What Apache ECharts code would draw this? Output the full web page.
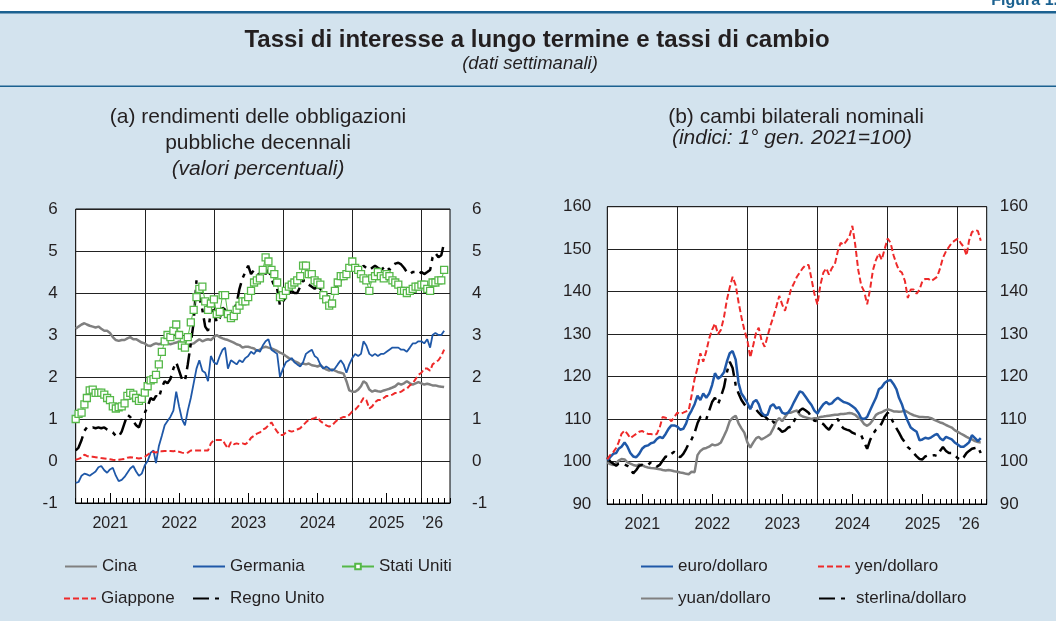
<!DOCTYPE html>
<html>
<head>
<meta charset="utf-8" />
<script src="https://cdn.jsdelivr.net/npm/echarts@6/dist/echarts.min.js"></script>
<style>
  html, body { margin: 0; padding: 0; background: #fff; }
  #chart { width: 1056px; height: 621px; }
</style>
</head>
<body>
<div id="chart"></div>
<script>
// observation dates: 1st and 16th of each month, Jan 2021 - May 2026
const dates = [];
for (let y = 2021; y <= 2026; y++) {
  for (let m = 1; m <= 12; m++) {
    if (y === 2026 && m > 5) break;
    const mm = String(m).padStart(2, '0');
    dates.push(`${y}-${mm}-01`);
    if (!(y === 2026 && m === 5)) dates.push(`${y}-${mm}-16`);
  }
}

// month starts used for the axis ticks (Jan 2021 - Jun 2026)
const months = [];
for (let y = 2021; y <= 2026; y++) {
  for (let m = 1; m <= 12; m++) {
    if (y === 2026 && m > 6) break;
    months.push(`${y}-${String(m).padStart(2, '0')}`);
  }
}
const labelMonths = ['2021-07', '2022-07', '2023-07', '2024-07', '2025-07', '2026-03'];
const xTickLabels = ['2021', '2022', '2023', '2024', '2025', "'26"];

// (a) 10-year government bond yields, percent
const cina = [
  3.15, 3.2, 3.25, 3.28, 3.25, 3.22, 3.2, 3.18, 3.2, 3.15, 3.1, 3.1, 3.05, 2.95, 2.88, 2.86, 2.88, 2.88, 2.92, 2.95, 2.9, 2.9, 2.86, 2.82,
  2.8, 2.75, 2.74, 2.78, 2.8, 2.78, 2.8, 2.82, 2.8, 2.78, 2.8, 2.82, 2.85, 2.8, 2.75, 2.72, 2.78, 2.8, 2.85, 2.9, 2.85, 2.88, 2.9, 2.88,
  2.95, 3.0, 2.95, 2.92, 2.9, 2.88, 2.85, 2.82, 2.78, 2.76, 2.7, 2.72, 2.72, 2.7, 2.68, 2.62, 2.65, 2.7, 2.72, 2.7, 2.68, 2.65, 2.62, 2.58,
  2.55, 2.5, 2.45, 2.42, 2.38, 2.35, 2.3, 2.32, 2.3, 2.32, 2.28, 2.27, 2.25, 2.28, 2.22, 2.18, 2.15, 2.18, 2.15, 2.12, 2.1, 2.08, 1.9, 1.68,
  1.65, 1.65, 1.7, 1.78, 1.9, 1.85, 1.7, 1.65, 1.68, 1.66, 1.65, 1.68, 1.7, 1.72, 1.75, 1.78, 1.85, 1.82, 1.85, 1.9, 1.85, 1.82, 1.85, 1.88,
  1.85, 1.82, 1.84, 1.82, 1.8, 1.8, 1.78, 1.77, 1.76
];
const germania = [
  -0.52, -0.5, -0.35, -0.3, -0.32, -0.35, -0.3, -0.25, -0.15, -0.12, -0.22, -0.28, -0.2, -0.16, -0.35, -0.48, -0.45, -0.38, -0.28, -0.18, -0.12, -0.25, -0.35, -0.3,
  -0.1, 0.0, 0.2, 0.25, -0.05, 0.35, 0.6, 0.85, 0.95, 1.05, 1.2, 1.65, 1.3, 1.0, 0.85, 1.2, 1.5, 1.85, 2.2, 2.4, 2.15, 2.1, 1.9, 2.5,
  2.35, 2.3, 2.5, 2.65, 2.7, 2.2, 2.4, 2.35, 2.3, 2.4, 2.35, 2.45, 2.5, 2.6, 2.55, 2.65, 2.6, 2.75, 2.85, 2.9, 2.65, 2.6, 2.55, 2.0,
  2.2, 2.35, 2.4, 2.45, 2.35, 2.3, 2.25, 2.35, 2.55, 2.6, 2.65, 2.5, 2.45, 2.3, 2.2, 2.25, 2.2, 2.15, 2.2, 2.3, 2.4, 2.3, 2.1, 2.3,
  2.45, 2.55, 2.5, 2.55, 2.85, 2.75, 2.55, 2.5, 2.55, 2.5, 2.55, 2.55, 2.6, 2.65, 2.7, 2.7, 2.7, 2.65, 2.65, 2.6, 2.7, 2.8, 2.8, 2.85,
  2.85, 2.8, 2.9, 2.7, 3.0, 3.05, 3.0, 3.0, 3.1
];
const statiUniti = [
  1.0, 1.12, 1.15, 1.35, 1.5, 1.68, 1.7, 1.62, 1.62, 1.63, 1.58, 1.5, 1.45, 1.3, 1.25, 1.28, 1.3, 1.37, 1.55, 1.62, 1.58, 1.5, 1.43, 1.48,
  1.63, 1.78, 1.92, 1.95, 2.05, 2.3, 2.6, 2.85, 3.0, 2.95, 3.1, 3.25, 3.0, 2.75, 2.7, 2.95, 3.3, 3.6, 3.9, 4.1, 4.15, 3.8, 3.6, 3.75,
  3.85, 3.5, 3.55, 3.95, 3.95, 3.5, 3.4, 3.45, 3.6, 3.7, 3.8, 3.8, 3.9, 4.05, 4.25, 4.3, 4.35, 4.55, 4.85, 4.75, 4.55, 4.45, 4.25, 3.9,
  3.95, 4.05, 4.15, 4.2, 4.25, 4.3, 4.4, 4.65, 4.65, 4.45, 4.45, 4.3, 4.25, 4.2, 3.95, 3.85, 3.7, 3.75, 4.05, 4.25, 4.4, 4.4, 4.45, 4.6,
  4.75, 4.6, 4.55, 4.45, 4.35, 4.3, 4.05, 4.35, 4.4, 4.5, 4.4, 4.35, 4.45, 4.4, 4.3, 4.25, 4.2, 4.05, 4.05, 4.0, 4.05, 4.1, 4.15, 4.15,
  4.2, 4.2, 4.1, 4.05, 4.25, 4.25, 4.3, 4.3, 4.55
];
const giappone = [
  0.03, 0.05, 0.08, 0.15, 0.12, 0.1, 0.1, 0.09, 0.08, 0.07, 0.06, 0.05, 0.04, 0.03, 0.02, 0.03, 0.04, 0.05, 0.08, 0.09, 0.08, 0.07, 0.06, 0.07,
  0.1, 0.15, 0.2, 0.22, 0.2, 0.24, 0.23, 0.24, 0.24, 0.24, 0.23, 0.25, 0.22, 0.2, 0.18, 0.2, 0.25, 0.25, 0.25, 0.25, 0.25, 0.25, 0.25, 0.42,
  0.5, 0.5, 0.5, 0.5, 0.4, 0.3, 0.45, 0.4, 0.42, 0.4, 0.42, 0.4, 0.45, 0.55, 0.6, 0.65, 0.68, 0.75, 0.78, 0.85, 0.92, 0.8, 0.7, 0.62,
  0.62, 0.68, 0.72, 0.7, 0.72, 0.75, 0.78, 0.85, 0.92, 0.98, 1.0, 1.02, 1.05, 0.95, 0.9, 0.85, 0.82, 0.85, 0.92, 0.98, 1.02, 1.05, 1.05, 1.1,
  1.18, 1.22, 1.3, 1.4, 1.5, 1.45, 1.25, 1.3, 1.4, 1.45, 1.45, 1.5, 1.55, 1.55, 1.58, 1.62, 1.62, 1.65, 1.7, 1.72, 1.8, 1.85, 1.95, 2.05,
  2.1, 2.2, 2.2, 2.15, 2.3, 2.35, 2.4, 2.5, 2.65
];
const regnoUnito = [
  0.25, 0.32, 0.5, 0.72, 0.8, 0.78, 0.8, 0.78, 0.8, 0.78, 0.8, 0.75, 0.72, 0.68, 0.6, 0.58, 0.7, 0.9, 1.1, 1.05, 0.95, 0.85, 0.8, 1.0,
  1.15, 1.3, 1.5, 1.45, 1.55, 1.5, 1.75, 1.9, 1.85, 1.95, 2.2, 2.35, 2.15, 1.95, 1.9, 2.3, 2.8, 3.3, 4.3, 3.9, 3.6, 3.2, 3.1, 3.55,
  3.6, 3.3, 3.4, 3.65, 3.6, 3.45, 3.5, 3.6, 3.75, 4.1, 4.35, 4.5, 4.65, 4.45, 4.55, 4.5, 4.4, 4.55, 4.45, 4.55, 4.35, 4.15, 4.1, 3.7,
  3.8, 3.9, 4.0, 4.05, 4.0, 4.0, 4.15, 4.3, 4.3, 4.2, 4.15, 4.1, 4.15, 4.1, 4.0, 3.95, 3.9, 4.0, 4.1, 4.2, 4.3, 4.45, 4.4, 4.55,
  4.65, 4.6, 4.5, 4.55, 4.65, 4.6, 4.55, 4.6, 4.65, 4.6, 4.55, 4.6, 4.65, 4.55, 4.65, 4.7, 4.72, 4.68, 4.6, 4.5, 4.45, 4.5, 4.5, 4.45,
  4.5, 4.45, 4.5, 4.55, 4.85, 4.95, 4.85, 4.9, 5.2
];

// (b) bilateral nominal exchange rates, index 1 Jan 2021 = 100
const euroDollaro = [
  100.3, 101, 101.8, 102, 103, 103.5, 104.5, 103.5, 102, 101.2, 101, 101.8, 103, 103.6, 103.8, 104.3, 104.5, 105.3, 105.8, 105.5, 106.5, 107.7, 108.5, 108.5,
  108.2, 107.5, 107.7, 109, 110.8, 112, 113.5, 115.5, 114.5, 116, 115, 116, 118, 120.8, 119.5, 120, 121, 123.5, 125.5, 126, 124, 118.5, 116, 115,
  113.8, 112.3, 114, 114.5, 113.5, 111.5, 110.8, 111, 113, 113.5, 112.5, 112.8, 111.5, 111.2, 111.5, 112.5, 114, 115.3, 116.5, 116.2, 115.2, 114.2, 113.3, 112,
  111.3, 112.5, 113.5, 114, 113.5, 113.7, 114.5, 115, 114.5, 114, 113.8, 113.5, 113, 112.5, 111.5, 110.2, 110, 110.5, 112, 113.5, 115, 117, 117.5, 118.5,
  119, 119.2, 118.2, 117, 115, 113.5, 111.2, 109.5, 108, 107.5, 107, 105, 105.2, 105.6, 105.4, 105.7, 106.2, 106.5, 105.5, 105, 105.8, 105.5, 105.2, 104.5,
  104, 103.5, 103.5, 104, 104.5, 106.2, 105.5, 104.8, 105.5
];
const yenDollaro = [
  100.5, 101.5, 102.2, 103.2, 104.5, 106.5, 107.3, 106.5, 105.5, 106, 106.5, 107, 107.2, 106.8, 106.5, 106.5, 106.2, 106.5, 108, 110.5, 110.3, 110.2, 109.5, 110.5,
  111.5, 111.2, 111.5, 111.8, 112, 115.5, 119.5, 122, 125.5, 123.5, 126, 129, 131, 132.5, 130, 131, 134, 138, 141, 143.5, 141.5, 137.5, 134, 131,
  128.5, 124.5, 127.5, 130.5, 131.5, 128.5, 127, 129.5, 132, 134, 136.5, 139, 137, 135.5, 138, 140.5, 142, 143.5, 144.5, 145.5, 146.3, 146.3, 143, 139.5,
  137, 141.5, 144.5, 145.5, 144, 145.5, 146.5, 149.5, 151.5, 151, 152, 153, 155.5, 151, 145, 141.5, 140, 137, 140.5, 145, 147.5, 149, 147.5, 150,
  152.5, 151.5, 148.5, 146.5, 145, 144.5, 142.5, 138.5, 140.5, 140.5, 139.5, 140.5, 142.5, 143, 143, 142.5, 143, 143.5, 145.5, 148, 149.5, 150.5, 151.5, 152,
  152.5, 151.5, 150.5, 148.5, 152, 154, 154.5, 154.3, 152
];
const yuanDollaro = [
  99.8, 99.4, 99.2, 99.6, 100.2, 100.6, 100.5, 99.8, 99.5, 99.2, 99.0, 99.3, 99.2, 98.8, 98.6, 98.5, 98.4, 98.3, 98.2, 98.0, 97.9, 98.0, 97.9, 97.7,
  97.6, 97.4, 97.3, 97.1, 97.0, 97.6, 97.5, 101.5, 102.5, 103.0, 103.2, 103.5, 104, 103.8, 104, 104.5, 106, 107.5, 109.5, 110.3, 110.8, 109, 107.8, 106.8,
  104.5, 103.3, 104.5, 105.5, 105.8, 105.2, 105.6, 106, 106.5, 107.8, 109.5, 110.2, 109.5, 110.5, 111.5, 111.5, 111.8, 112, 111, 110.6, 110.4, 110.2, 110, 110.2,
  110.2, 110.5, 110.6, 110.7, 110.8, 110.9, 111, 111, 111.2, 111.2, 111.3, 111.4, 111.3, 111, 110.3, 109.8, 108.8, 108.4, 108.9, 109.8, 111, 111.4, 111.6, 112,
  112.3, 112.1, 111.8, 111.8, 111.7, 111.8, 112, 111.6, 111.2, 110.9, 110.7, 110.5, 110.5, 110.4, 110.4, 110.2, 109.8, 109.5, 109.2, 109, 108.6, 108.3, 108, 107.4,
  107, 106.6, 106.2, 105.8, 105.5, 105.2, 104.8, 104.6, 104.5
];
const sterlinaDollaro = [
  101, 100, 99.5, 99, 99.5, 99.3, 99.3, 99, 98.2, 97.2, 98, 99, 99.2, 99, 99.2, 99.8, 99.5, 98.8, 99.2, 100.2, 101.2, 101, 101.8, 102.3,
  101.5, 101, 101.8, 103, 104.2, 105.2, 106.8, 109, 110.5, 110.8, 110, 112, 114, 115, 113.5, 115.3, 117.5, 121, 123.5, 122, 118, 116, 114.5, 113.5,
  112.3, 112.8, 113, 112.2, 111.5, 110.8, 110.7, 110, 109, 109.5, 108, 107.7, 107, 107.3, 108, 108.2, 109.5, 110.8, 112, 112.5, 112, 111.5, 110.5, 109.6,
  109.5, 109.3, 108.8, 108, 107.5, 108.5, 109.5, 110, 108.5, 107.8, 107.5, 107.3, 106.8, 106.5, 106.5, 106.2, 104.5, 103, 105, 106.5, 107.5, 108, 109, 110.5,
  111.5, 110.5, 109, 107.8, 106.8, 105.5, 104.5, 103.4, 102.8, 102, 101.2, 100.6, 100.5, 101.2, 101.5, 101.4, 101.5, 101.3, 102.5, 103.4, 102.5, 102, 102, 101.5,
  100.8, 100.3, 101, 102, 102.5, 103, 103.2, 103.4, 102
];

const FONT = '"Liberation Sans", Arial, sans-serif';
const TXT = '#231f20';
const BLUE = '#1f58a8';
const RED = '#ee2a2a';
const GRAY = '#808080';
const GREEN = '#55b848';
const LONG_SHORT = [16, 6, 4, 6];

const pair = arr => dates.map((d, i) => [d, arr[i]]);

function xAxesFor(gridIndex) {
  return [
    {
      type: 'category', gridIndex, position: 'bottom', data: months, boundaryGap: false,
      axisLine: { show: true, onZero: false, lineStyle: { color: '#000', width: 1 } },
      axisTick: { show: true, inside: true, length: 5, interval: 0, lineStyle: { color: '#000' } },
      axisLabel: { show: false },
      splitLine: { show: true, interval: i => i % 12 === 0, lineStyle: { color: '#222', width: 1 } }
    },
    {
      type: 'category', gridIndex, position: 'bottom', data: months, boundaryGap: false,
      axisLine: { show: false, onZero: false },
      axisTick: { show: true, inside: true, length: 10, interval: i => i % 12 === 6, lineStyle: { color: '#000' } },
      axisLabel: {
        show: true, margin: 13, fontSize: 16, color: TXT, fontFamily: FONT,
        interval: (i, v) => labelMonths.includes(v),
        formatter: v => xTickLabels[labelMonths.indexOf(v)]
      },
      splitLine: { show: false }
    },
    {
      type: 'time', gridIndex, position: 'bottom', min: '2021-01-01', max: '2026-06-01', show: false,
      axisLine: { onZero: false }
    }
  ];
}

function yAxesFor(gridIndex, min, max, interval, leftMargin, rightMargin) {
  const label = { fontSize: 17, color: TXT, fontFamily: FONT };
  return [
    {
      type: 'value', gridIndex, min, max, interval, position: 'left',
      axisLine: { show: false }, axisTick: { show: false },
      axisLabel: Object.assign({ margin: leftMargin }, label),
      splitLine: { show: true, lineStyle: { color: '#222', width: 1 } }
    },
    {
      type: 'value', gridIndex, min, max, interval, position: 'right',
      axisLine: { show: false }, axisTick: { show: false },
      axisLabel: Object.assign({ margin: rightMargin }, label),
      splitLine: { show: false }
    }
  ];
}

function lineSeries(name, arr, xi, yi, color, width, dash) {
  return {
    name, type: 'line', xAxisIndex: xi, yAxisIndex: yi, data: pair(arr),
    symbol: 'none', showSymbol: false,
    lineStyle: { color, width, type: dash || 'solid' },
    itemStyle: { color }
  };
}

// one legend per entry so every item sits where the reference puts it
function legendItem(name, left, top, withMarker) {
  return {
    data: [name], left, top, padding: 0, itemWidth: 32, itemHeight: withMarker ? 7 : 10, itemGap: 0,
    selectedMode: false,
    itemStyle: withMarker ? {} : { color: 'rgba(0,0,0,0)', borderWidth: 0 },
    textStyle: { fontSize: 17, color: TXT, fontFamily: FONT }
  };
}

const chart = echarts.init(document.getElementById('chart'), null, { renderer: 'canvas' });

const option = {
  animation: false,
  backgroundColor: '#d3e3ee',
  grid: [
    { left: 75.7, top: 209, width: 374.3, height: 294, show: true, backgroundColor: '#fff', borderColor: '#000', borderWidth: 1 },
    { left: 607.3, top: 206.7, width: 379.4, height: 297.3, show: true, backgroundColor: '#fff', borderColor: '#000', borderWidth: 1 }
  ],
  xAxis: [...xAxesFor(0), ...xAxesFor(1)],
  yAxis: [...yAxesFor(0, -1, 6, 1, 18, 22), ...yAxesFor(1, 90, 160, 10, 16, 13)],
  legend: [
    legendItem('Cina', 64, 558),
    legendItem('Germania', 192, 558),
    legendItem('Stati Uniti', 341, 558, true),
    legendItem('Giappone', 63, 590),
    legendItem('Regno Unito', 192, 590),
    legendItem('euro/dollaro', 640, 558),
    legendItem('yen/dollaro', 817, 558),
    legendItem('yuan/dollaro', 640, 590),
    legendItem('sterlina/dollaro', 818, 590)
  ],
  graphic: [
    { type: 'rect', shape: { x: 0, y: 0, width: 1056, height: 11 }, style: { fill: '#fff' } },
    { type: 'rect', shape: { x: 0, y: 11, width: 1056, height: 2.5 }, style: { fill: '#1b6190' } },
    { type: 'rect', shape: { x: 0, y: 85.5, width: 1056, height: 1.5 }, style: { fill: '#1b6190' } },
    { type: 'text', x: 1058, y: -7, style: { text: 'Figura 1.', fill: '#1b6190', font: 'bold 16px "Liberation Sans", Arial, sans-serif', textAlign: 'right' } },
    { type: 'text', x: 537, y: 40, style: { text: 'Tassi di interesse a lungo termine e tassi di cambio', fill: TXT, font: 'bold 24px "Liberation Sans", Arial, sans-serif', textAlign: 'center', textVerticalAlign: 'middle' } },
    { type: 'text', x: 530, y: 64, style: { text: '(dati settimanali)', fill: TXT, font: 'italic 18.5px "Liberation Sans", Arial, sans-serif', textAlign: 'center', textVerticalAlign: 'middle' } },
    { type: 'text', x: 258, y: 117, style: { text: '(a) rendimenti delle obbligazioni', fill: TXT, font: '21px "Liberation Sans", Arial, sans-serif', textAlign: 'center', textVerticalAlign: 'middle' } },
    { type: 'text', x: 258, y: 143, style: { text: 'pubbliche decennali', fill: TXT, font: '21px "Liberation Sans", Arial, sans-serif', textAlign: 'center', textVerticalAlign: 'middle' } },
    { type: 'text', x: 258, y: 169, style: { text: '(valori percentuali)', fill: TXT, font: 'italic 21px "Liberation Sans", Arial, sans-serif', textAlign: 'center', textVerticalAlign: 'middle' } },
    { type: 'text', x: 796, y: 117, style: { text: '(b) cambi bilaterali nominali', fill: TXT, font: '21px "Liberation Sans", Arial, sans-serif', textAlign: 'center', textVerticalAlign: 'middle' } },
    { type: 'text', x: 792, y: 138, style: { text: '(indici: 1° gen. 2021=100)', fill: TXT, font: 'italic 21px "Liberation Sans", Arial, sans-serif', textAlign: 'center', textVerticalAlign: 'middle' } }
  ],
  series: [
    lineSeries('Cina', cina, 2, 0, GRAY, 2.5),
    lineSeries('Germania', germania, 2, 0, BLUE, 1.8),
    lineSeries('Giappone', giappone, 2, 0, RED, 2, [6, 3]),
    lineSeries('Regno Unito', regnoUnito, 2, 0, '#000', 2.5, LONG_SHORT),
    {
      name: 'Stati Uniti', type: 'line', xAxisIndex: 2, yAxisIndex: 0, data: pair(statiUniti),
      symbol: 'rect', symbolSize: 7, showSymbol: true, showAllSymbol: true,
      lineStyle: { color: GREEN, width: 1 },
      itemStyle: { color: '#fff', borderColor: GREEN, borderWidth: 1.3 }
    },
    lineSeries('yuan/dollaro', yuanDollaro, 5, 2, GRAY, 2.5),
    lineSeries('sterlina/dollaro', sterlinaDollaro, 5, 2, '#000', 2.5, LONG_SHORT),
    lineSeries('euro/dollaro', euroDollaro, 5, 2, BLUE, 2.5),
    lineSeries('yen/dollaro', yenDollaro, 5, 2, RED, 2, [6, 3])
  ]
};

chart.setOption(option);
</script>
</body>
</html>
